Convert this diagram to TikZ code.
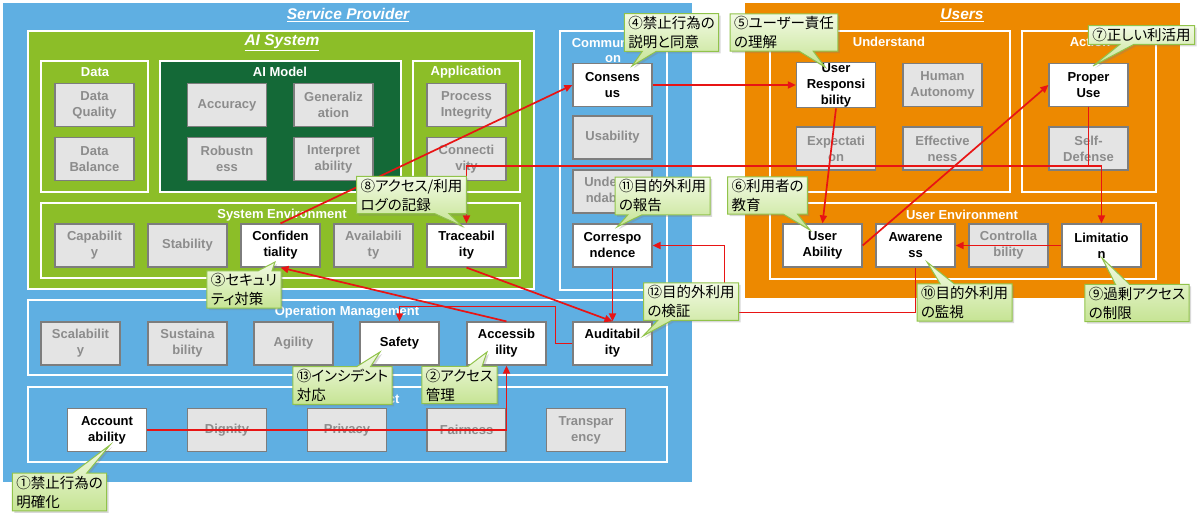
\documentclass[tikz,border=0pt]{standalone}
\usepackage{fontspec}
\setmainfont{Liberation Sans}
\newfontfamily\cjk[RawFeature=+palt]{Noto Sans CJK JP}
\usepackage{tikz}
\usetikzlibrary{shapes,shapes.callouts,arrows.meta,positioning,calc,shadows}

\definecolor{spblue}{RGB}{95,175,226}
\definecolor{sysgreen}{RGB}{140,190,40}
\definecolor{modelgreen}{RGB}{20,105,55}
\definecolor{usrorange}{RGB}{237,137,0}
\definecolor{boxgray}{RGB}{228,228,228}
\definecolor{edgegray}{RGB}{125,125,125}
\definecolor{textgray}{RGB}{140,140,140}
\definecolor{linkred}{RGB}{232,20,20}
\definecolor{notetop}{RGB}{242,250,228}
\definecolor{notebot}{RGB}{198,228,148}
\definecolor{noteedge}{RGB}{145,195,75}

\tikzset{
  panel/.style={draw=white, line width=2.5pt},
  graybox/.style={draw=edgegray, line width=1.2pt, fill=boxgray, text=textgray,
    minimum width=79pt, minimum height=43pt, align=center, inner sep=1pt,
    font=\bfseries\fontsize{13}{16}\selectfont},
  whitebox/.style={graybox, fill=white, text=black},
  grouptitle/.style={text=white, align=center, inner sep=0pt,
    font=\bfseries\fontsize{13}{15}\selectfont},
  maintitle/.style={text=white, inner sep=0pt,
    font=\bfseries\itshape\fontsize{15.5}{17}\selectfont},
  link/.style={draw=linkred, line width=1.7pt, -{Triangle[length=8pt,width=7pt]}},
  linkplain/.style={draw=linkred, line width=1.7pt},
  note/.style={rectangle callout, draw=noteedge, line width=1pt,
    top color=notetop, bottom color=notebot, align=left,
    inner xsep=4pt, inner ysep=2.5pt, callout pointer width=14pt,
    font=\cjk\fontsize{14.5}{19}\selectfont,
    drop shadow={shadow xshift=2pt, shadow yshift=-2pt, opacity=0.3}},
}

\begin{document}
\begin{tikzpicture}[x=1pt,y=-1pt]
\useasboundingbox (0,0) rectangle (1200,524);

\fill[spblue] (3,3) rectangle (692,482);
\fill[usrorange] (745,3) rectangle (1180,298);
\draw[panel, fill=sysgreen] (28,31) rectangle (534,289);
\draw[panel, fill=sysgreen] (41,61) rectangle (148,192);
\draw[panel, fill=modelgreen] (160,61) rectangle (401,192);
\draw[panel, fill=sysgreen] (413,61) rectangle (520,192);
\draw[panel, fill=sysgreen] (41,203) rectangle (520,278);
\draw[panel, fill=spblue] (560,31) rectangle (667,290);
\draw[panel, fill=spblue] (28,300) rectangle (667,375);
\draw[panel, fill=spblue] (28,387) rectangle (667,462);
\draw[panel, fill=usrorange] (770,31) rectangle (1010,192);
\draw[panel, fill=usrorange] (1022,31) rectangle (1156,192);
\draw[panel, fill=usrorange] (770,203) rectangle (1156,279);

\node[maintitle] (sptitle) at (348,15) {\underline{Service Provider}};
\node[maintitle] (aititle) at (282,43) {\underline{AI System}};
\node[maintitle] (ustitle) at (962,15) {\underline{Users}};
\node[grouptitle] (datattl) at (95,72) {Data};
\node[grouptitle] (modelttl) at (280,72) {AI Model};
\node[grouptitle] (appttl) at (466,72) {Application};
\node[grouptitle] (sysenvttl) at (282,215) {System Environment};
\node[grouptitle] (commttl) at (613,50) {Communicati\\on};
\node[grouptitle] (opttl) at (347,312) {Operation Management};
\node[grouptitle] (codettl) at (347,399) {Code of Conduct};
\node[grouptitle] (undttl) at (889,42) {Understand};
\node[grouptitle] (actttl) at (1090,42) {Action};
\node[grouptitle] (uenvttl) at (962,215) {User Environment};

\node[graybox] (dataq) at (94.5,105) {Data\\Quality};
\node[graybox] (datab) at (94.5,159) {Data\\Balance};
\node[graybox] (accur) at (227,105) {Accuracy};
\node[graybox] (general) at (333.5,105) {Generaliz\\ation};
\node[graybox] (robust) at (227,159) {Robustn\\ess};
\node[graybox] (interp) at (333.5,159) {Interpret\\ability};
\node[graybox] (procint) at (466.5,105) {Process\\Integrity};
\node[graybox] (connect) at (466.5,159) {Connecti\\vity};

\node[graybox] (capab) at (94.5,245.5) {Capabilit\\y};
\node[graybox] (stabil) at (187.5,245.5) {Stability};
\node[whitebox] (confid) at (280.5,245.5) {Confiden\\tiality};
\node[graybox] (avail) at (373.5,245.5) {Availabili\\ty};
\node[whitebox] (trace) at (466.5,245.5) {Traceabil\\ity};

\node[whitebox] (consensus) at (612.5,85) {Consens\\us};
\node[graybox] (usab) at (612.5,137.5) {Usability};
\node[graybox] (underst) at (612.5,191.5) {Understa\\ndability};
\node[whitebox] (corresp) at (612.5,245.5) {Correspo\\ndence};

\node[graybox] (scalab) at (80.5,343.5) {Scalabilit\\y};
\node[graybox] (sustain) at (187.5,343.5) {Sustaina\\bility};
\node[graybox] (agility) at (293.5,343.5) {Agility};
\node[whitebox] (safety) at (399.5,343.5) {Safety};
\node[whitebox] (access) at (506.5,343.5) {Accessib\\ility};
\node[whitebox] (audit) at (612.5,343.5) {Auditabil\\ity};

\node[whitebox] (account) at (107,430) {Account\\ability};
\node[graybox] (dignity) at (227,430) {Dignity};
\node[graybox] (privacy) at (347,430) {Privacy};
\node[graybox] (fairness) at (466.5,430) {Fairness};
\node[graybox] (transp) at (586,430) {Transpar\\ency};

\node[whitebox] (userresp) at (836,85) {User\\Responsi\\bility};
\node[graybox] (humanaut) at (942.5,85) {Human\\Autonomy};
\node[graybox] (expect) at (836,148.5) {Expectati\\on};
\node[graybox] (effect) at (942.5,148.5) {Effective\\ness};
\node[whitebox] (properuse) at (1088.5,85) {Proper\\Use};
\node[graybox] (selfdef) at (1088.5,148.5) {Self-\\Defense};

\node[whitebox] (userab) at (822.5,245.5) {User\\Ability};
\node[whitebox] (aware) at (915.5,245.5) {Awarene\\ss};
\node[graybox] (control) at (1008.5,245.5) {Controlla\\bility};
\node[whitebox] (limit) at (1101.5,245.5) {Limitatio\\n};

\draw[link] (account.east) -| (access.south);
\draw[link] (access.north) -- (confid.south);
\draw[link] (confid.north) -- (consensus.west);
\draw[link] (consensus.east) -- (userresp.west);
\draw[link] (userresp.south) -- (userab.north);
\draw[link] (userab.east) -- (properuse.west);
\coordinate (split) at ($(properuse.south)+(0,59)$);
\draw[linkplain] (properuse.south) -- (split);
\draw[link] (split) -| (limit.north);
\draw[link] (split) -| (trace.north);
\draw[link] (trace.south) -- (audit.north);
\draw[link] (corresp.south) -- (audit.north);
\draw[link] (audit.west) -| ++(-17,-37) -| (safety.north);
\draw[link] (limit.west) -- (aware.east);
\draw[link] (aware.south) |- ++(-191,45) |- (corresp.east);

\node[note, callout absolute pointer={($(account.center)+(3,15)$)}] (note1) at (59.5,492) {①禁止行為の\\明確化};
\node[note, callout absolute pointer={($(access.center)+(-19.5,8.5)$)}] (note2) at (459.5,385) {②アクセス\\管理};
\node[note, callout absolute pointer={($(confid.center)+(-5.5,16.5)$)}] (note3) at (244,289.5) {③セキュリ\\ティ対策};
\node[note, callout absolute pointer={($(consensus.center)+(19.5,-19)$)}] (note4) at (671.5,32.5) {④禁止行為の\\説明と同意};
\node[note, callout absolute pointer={($(userresp.center)+(-11,-18)$)}] (note5) at (784,32.5) {⑤ユーザー責任\\の理解};
\node[note, callout absolute pointer={($(userab.center)+(-12.5,-15.5)$)}] (note6) at (767.5,195.5) {⑥利用者の\\教育};
\node[note, callout absolute pointer={($(properuse.center)+(4.5,-19)$)}] (note7) at (1141.5,35) {⑦正しい利活用};
\node[note, callout absolute pointer={($(trace.center)+(-4.5,-19.5)$)}] (note8) at (411.5,195) {⑧アクセス/利用\\ログの記録};
\node[note, callout absolute pointer={($(limit.center)+(0.5,12.5)$)}] (note9) at (1137,303) {⑨過剰アクセス\\の制限};
\node[note, callout absolute pointer={($(aware.center)+(11.5,16.5)$)}] (note10) at (964.5,302.5) {⑩目的外利用\\の監視};
\node[note, callout absolute pointer={($(corresp.center)+(4.5,-18.5)$)}] (note11) at (662.5,196) {⑪目的外利用\\の報告};
\node[note, callout absolute pointer={($(audit.center)+(30.5,-7.5)$)}] (note12) at (691,301.5) {⑫目的外利用\\の検証};
\node[note, callout absolute pointer={($(safety.center)+(-19.5,8.5)$)}] (note13) at (342.5,385.5) {⑬インシデント\\対応};
\end{tikzpicture}
\end{document}
